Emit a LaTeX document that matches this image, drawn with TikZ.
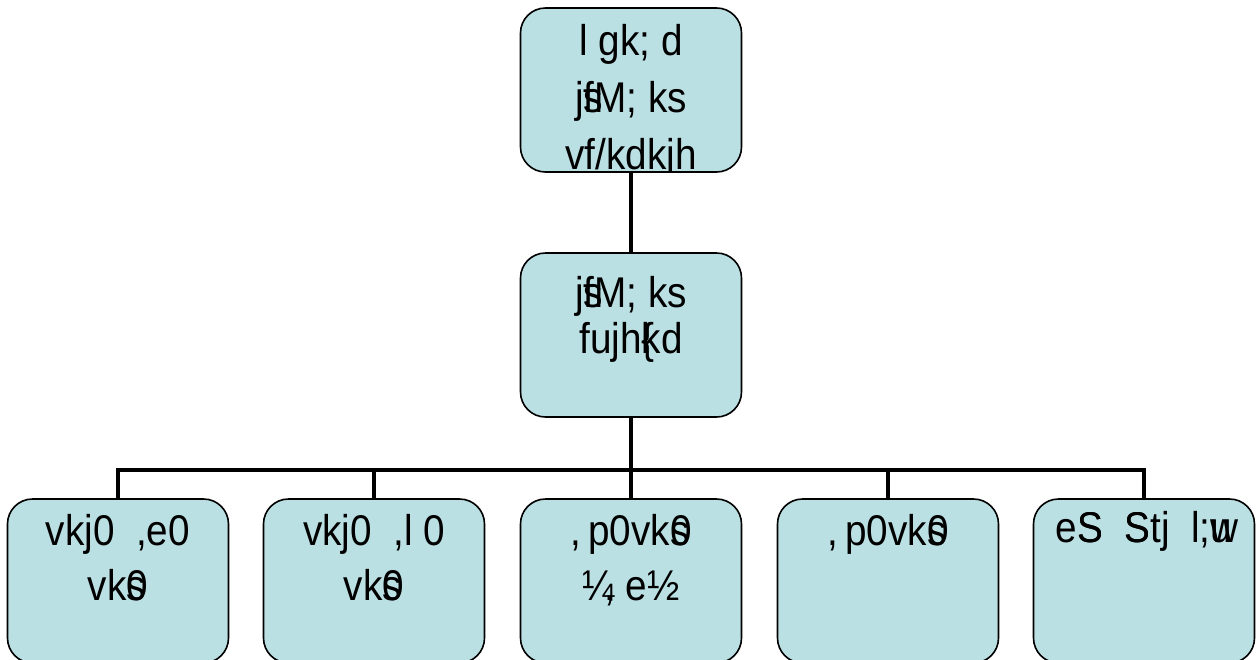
\documentclass[tikz,border=0pt]{standalone}
\usepackage{fontspec}
\setmainfont[FakeStretch=0.9]{Liberation Sans}
\usetikzlibrary{positioning}
\definecolor{boxblue}{RGB}{187,224,227}

\tikzset{
  post/.style={draw=black, fill=boxblue, rounded corners=25pt, line width=1.6pt,
    minimum width=221pt, minimum height=164pt, inner sep=0pt},
  wire/.style={line width=4.5pt},
  lbl/.style={font=\fontsize{43}{55}\selectfont, align=center, inner sep=0pt, anchor=base},
}

\begin{document}
\begin{tikzpicture}[x=1pt, y=-1pt]
    \useasboundingbox (0,0) rectangle (1260,659);

    \node[post, path picture={
        \node[lbl, font=\fontsize{43}{57}\selectfont] (suptext) at ([yshift=-161pt]path picture bounding box.north)
            {l gk; d\\ j\rlap{s}fM; ks\\ vf/kdkjh};}] (sup) at (631,90) {};
    \node[post] (insp) at (631,335) {};

    \node[post] (rm)  at (118,581) {};
    \node[post] (rs)  at (374,581) {};
    \node[post] (ho)  at (631,581) {};
    \node[post] (hob) at (888,581) {};
    \node[post] (ml)  at (1144,581) {};

    \node[lbl, font=\fontsize{43}{46}\selectfont] (insptext) at ([yshift=-101pt]insp.north) {j\rlap{s}fM; ks\\ fujh\rlap{\{}kd};
    \node[lbl] (rmtext)  at ([yshift=-102pt]rm.north)  {vkj0~~,e0\\ vk\rlap{s}0};
    \node[lbl] (rstext)  at ([yshift=-102pt]rs.north)  {vkj0~~,l~0\\ vk\rlap{s}0};
    \node[lbl] (hotext)  at ([yshift=-102pt]ho.north)  {,\,p0vk\rlap{s}0\\ ¼\llap{,} e½};
    \node[lbl] (hobtext) at ([yshift=-47pt]hob.north)  {,\,p0vk\rlap{s}0};
    \node[lbl] (mltext)  at ([yshift=-44pt]ml.north)   {e\rlap{S}S~~\rlap{S}Stj~~l;\rlap{w}u};

    % connectors
    \coordinate (bus) at (631,470);
    \draw[wire] (sup) -- (insp);
    \draw[wire] (insp) -- (ho);
    \draw[wire] (rm.north) |- (ml.north |- bus) -- (ml.north);
    \foreach \c in {rs,hob}
        \draw[wire] (\c.north) -- (\c.north |- bus);
\end{tikzpicture}
\end{document}
